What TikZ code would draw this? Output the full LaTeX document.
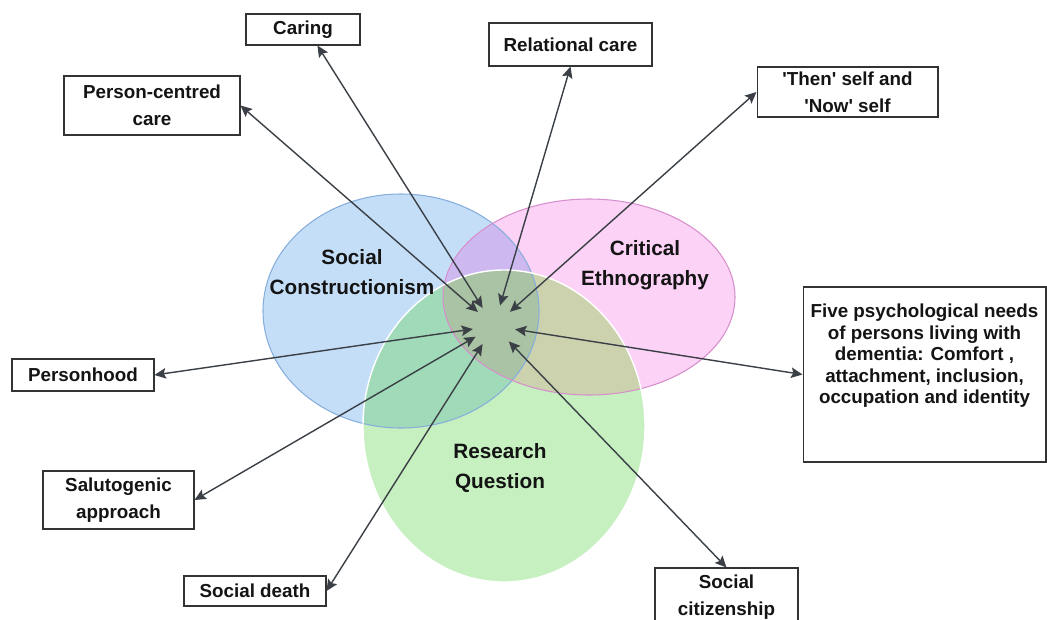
\documentclass[tikz,border=0pt]{standalone}
\usepackage{fontspec}
\setmainfont{Liberation Sans}
\usetikzlibrary{arrows.meta}

% set colours and their overlaps
\definecolor{socialfill}{HTML}{C5DEF8}
\definecolor{ethnofill}{HTML}{FCD2F6}
\definecolor{questionfill}{HTML}{C6F0C0}
\definecolor{socialethno}{HTML}{CDB9F0}
\definecolor{socialquestion}{HTML}{A0DAB9}
\definecolor{ethnoquestion}{HTML}{CCD2AE}
\definecolor{allthree}{HTML}{AAC3A5}
\definecolor{socialline}{HTML}{86AEDC}
\definecolor{ethnoline}{HTML}{D68FCC}
\definecolor{linkgray}{HTML}{3B4046}

% the three sets
\newcommand{\socialset}{(401,311) ellipse [x radius=138, y radius=117]}
\newcommand{\ethnoset}{(589,297) ellipse [x radius=146, y radius=98]}
\newcommand{\questionset}{(504,426) ellipse [x radius=141, y radius=156]}

\begin{document}
\begin{tikzpicture}[x=0.02cm, y=-0.02cm,
  concept/.style={draw=black!80, line width=0.6pt, fill=white, inner sep=0pt,
    align=center, text=black!92, font=\bfseries\fontsize{10.7}{15.3}\selectfont},
  setlabel/.style={align=center, text=black!92,
    font=\bfseries\fontsize{11.8}{17}\selectfont},
  link/.style={<->, >={Stealth[length=6.5pt, width=6pt, inset=1.2pt]}, line width=0.8pt,
    draw=linkgray}]
  \useasboundingbox (0,0) rectangle (1047,619);

  % plain set areas
  \fill[socialfill] \socialset;
  \fill[ethnofill] \ethnoset;
  \fill[questionfill] \questionset;
  % overlaps
  \begin{scope}
    \clip \socialset;
    \fill[socialethno] \ethnoset;
  \end{scope}
  \begin{scope}
    \clip \socialset;
    \fill[socialquestion] \questionset;
  \end{scope}
  \begin{scope}
    \clip \ethnoset;
    \fill[ethnoquestion] \questionset;
  \end{scope}
  \begin{scope}
    \clip \socialset;
    \clip \ethnoset;
    \fill[allthree] \questionset;
  \end{scope}
  % outlines
  \draw[socialline, line width=0.6pt] \socialset;
  \draw[ethnoline, line width=0.6pt] \ethnoset;
  \draw[white, line width=0.8pt] \questionset;

  % set names
  \node[setlabel] at (352,272) {Social\\Constructionism};
  \node[setlabel] at (645,265) {Critical\\Ethnography};
  \node[setlabel] at (500,468) {Research\\Question};

  % concepts round the diagram
  \node[concept, minimum width=2.28cm, minimum height=0.62cm] (caring) at (303,29.5) {Caring};
  \node[concept, minimum width=3.52cm, minimum height=1.18cm] (centred) at (152,105.5) {Person-centred\\care};
  \node[concept, minimum width=3.26cm, minimum height=0.86cm] (relational) at (570.5,44.5) {Relational care};
  \node[concept, minimum width=3.62cm, minimum height=1.0cm] (thennow) at (847.5,92)
    {\textquotesingle Then\textquotesingle{} self and\\\textquotesingle Now\textquotesingle{} self};
  \node[concept, minimum width=4.86cm, minimum height=3.5cm] (needs) at (924.5,374.5) {};
  \node[anchor=north, inner sep=0pt, align=center, text=black!92,
    font=\bfseries\fontsize{10.7}{12.3}\selectfont] at ([yshift=-0.34cm]needs.north)
    {Five psychological needs\\of persons living with\\dementia: Comfort ,\\attachment, inclusion,\\occupation and identity};
  \node[concept, minimum width=2.84cm, minimum height=0.64cm] (personhood) at (83,375) {Personhood};
  \node[concept, minimum width=3.02cm, minimum height=1.16cm] (salutogenic) at (118.5,500) {Salutogenic\\approach};
  \node[concept, minimum width=2.84cm, minimum height=0.6cm] (death) at (255,591) {Social death};
  \node[concept, minimum width=2.86cm, minimum height=1.16cm] (citizenship) at (726.5,597) {Social\\citizenship};

  % meeting point of the arrows
  \node[circle, minimum size=0.84cm, inner sep=0pt] (hub) at (494,326) {};

  \draw[link] (hub) -- (caring.-48);
  \draw[link] (hub) -- (centred.east);
  \draw[link] (hub) -- (relational.south);
  \draw[link] (hub) -- (thennow.west);
  \draw[link] (hub) -- (needs.west);
  \draw[link] (hub) -- (personhood.east);
  \draw[link] (hub) -- (salutogenic.east);
  \draw[link] (hub) -- (death.east);
  \draw[link] (hub) -- (citizenship.north);
\end{tikzpicture}
\end{document}
